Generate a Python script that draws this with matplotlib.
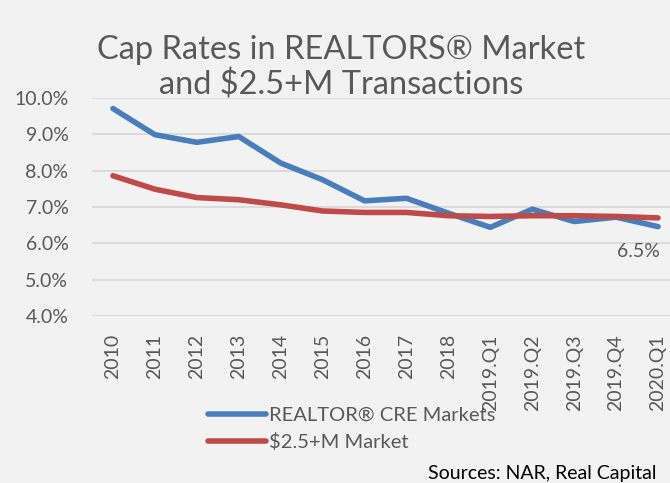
import numpy as np
import matplotlib.pyplot as plt

categories = ["2010", "2011", "2012", "2013", "2014", "2015", "2016", "2017", "2018",
              "2019.Q1", "2019.Q2", "2019.Q3", "2019.Q4", "2020.Q1"]
realtor_cre = [9.71, 8.99, 8.78, 8.94, 8.21, 7.75, 7.17, 7.24, 6.83,
               6.44, 6.94, 6.60, 6.72, 6.46]
big_market = [7.86, 7.49, 7.26, 7.20, 7.06, 6.89, 6.85, 6.85, 6.76,
              6.74, 6.76, 6.76, 6.74, 6.70]
y_ticks = [4, 5, 6, 7, 8, 9, 10]

plt.rcParams['font.family'] = ['Lato', 'DejaVu Sans']
bg = "#f2f2f2"
gray = "#595959"

fig = plt.figure(figsize=(6.7, 4.83), dpi=100, facecolor=bg)
ax = fig.add_axes([92 / 670, 1 - 316 / 483, (679 - 92) / 670, (316 - 98) / 483])
ax.set_facecolor(bg)

x = np.arange(len(categories))
l1, = ax.plot(x, realtor_cre, color="#4a7ebb", lw=4, solid_capstyle="round",
              label="REALTOR® CRE Markets")
l2, = ax.plot(x, big_market, color="#be4b48", lw=4, solid_capstyle="round",
              label="\\$2.5+M Market")

ax.set_xlim(-0.5, len(categories) - 0.5)
ax.set_ylim(4, 10)
ax.set_yticks(y_ticks)
ax.set_yticklabels([f"{v:.1f}%" for v in y_ticks])
ax.set_xticks(x)
ax.set_xticklabels(categories, rotation=90)
ax.tick_params(length=0, labelsize=14, labelcolor=gray)
ax.tick_params(axis="x", pad=13)
ax.tick_params(axis="y", pad=17)
ax.grid(axis="y", color="#d9d9d9", lw=1.3)
ax.set_axisbelow(True)
for s in ax.spines.values():
    s.set_visible(False)

ax.annotate(f"{realtor_cre[-1]:.1f}%", (x[-1], realtor_cre[-1]), xytext=(-14, -12),
            textcoords="offset points", ha="center", va="top", fontsize=14, color=gray)

fig.text(341 / 670, 1 - 68 / 483, "Cap Rates in REALTORS® Market\nand \\$2.5+M Transactions",
         ha="center", va="center", fontsize=23.5, color=gray, linespacing=1.2)

fig.legend(handles=[l1, l2], loc="upper left", bbox_to_anchor=(200 / 670, 1 - 399 / 483),
           frameon=False, fontsize=14.5, labelcolor=gray, handlelength=2.9,
           handletextpad=0.15, labelspacing=0.45, borderaxespad=0)

fig.text(656 / 670, 1 - 473 / 483, "Sources: NAR, Real Capital", ha="right", va="center",
         fontsize=14, color="black")

fig.savefig("out.png", dpi=100, facecolor=bg)
